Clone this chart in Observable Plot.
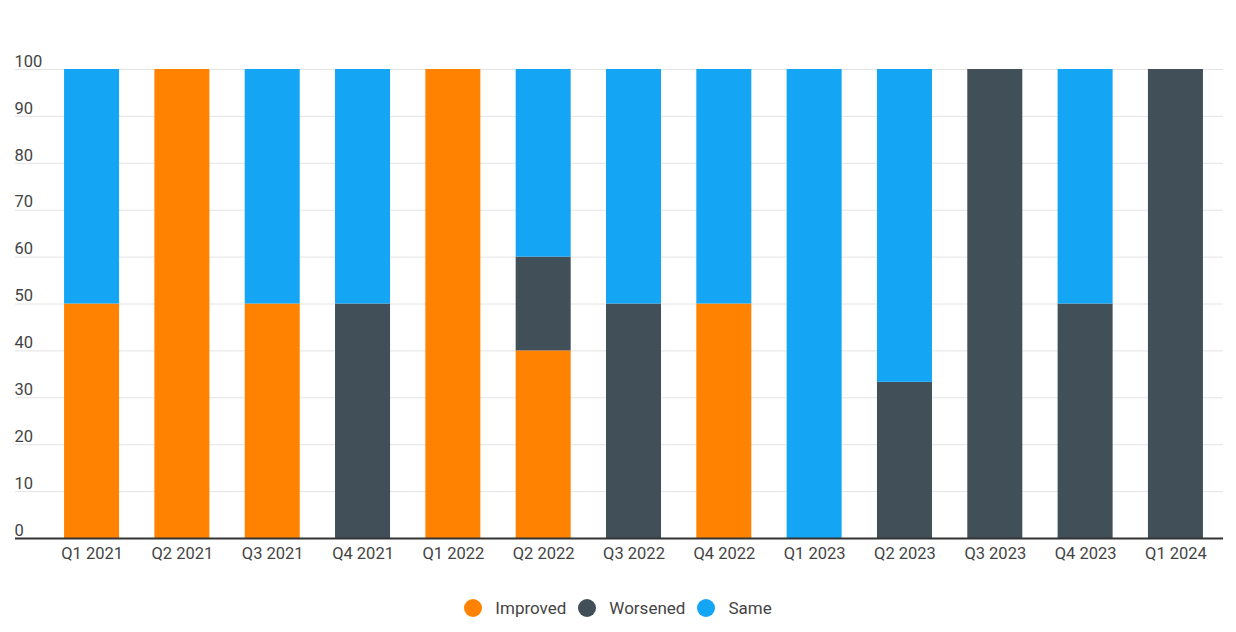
<!DOCTYPE html>
<html>
<head>
<meta charset="utf-8">
<script src="https://cdn.jsdelivr.net/npm/d3@7"></script>
<script src="https://cdn.jsdelivr.net/npm/@observablehq/plot@0.6"></script>
<style>
  html, body { margin: 0; padding: 0; background: #fff; }
  body { width: 1236px; height: 632px; overflow: hidden; font-family: Roboto, "Noto Sans", sans-serif; }
  #legend { display: flex; justify-content: center; align-items: center; margin-top: 23px; margin-left: 0px; font-size: 17px; color: #444; }
  .item { display: flex; align-items: center; margin: 0 6px; }
  .sw { width: 18px; height: 18px; border-radius: 50%; margin-right: 13px; }
</style>
</head>
<body>
<div id="chart"></div>
<div id="legend"></div>
<script>
const quarters = ["Q1 2021","Q2 2021","Q3 2021","Q4 2021","Q1 2022","Q2 2022","Q3 2022","Q4 2022","Q1 2023","Q2 2023","Q3 2023","Q4 2023","Q1 2024"];
const improved = [50, 100, 50, 0, 100, 40, 0, 50, 0, 0, 0, 0, 0];
const worsened = [0, 0, 0, 50, 0, 20, 50, 0, 0, 33.3, 100, 50, 100];
const same     = [50, 0, 50, 50, 0, 40, 50, 50, 100, 66.7, 0, 50, 0];
const seriesNames = ["Improved", "Worsened", "Same"];
const seriesColors = ["#ff8200", "#404f58", "#14a6f5"];
const yTicks = [0, 10, 20, 30, 40, 50, 60, 70, 80, 90, 100];

const seriesValues = [improved, worsened, same];
const rows = [];
quarters.forEach((q, i) => {
  seriesNames.forEach((s, j) => {
    rows.push({quarter: q, series: s, value: seriesValues[j][i]});
  });
});

const chart = Plot.plot({
  width: 1236,
  height: 575,
  marginTop: 69,
  marginBottom: 37,
  marginLeft: 46,
  marginRight: 15,
  style: {fontFamily: "Roboto, sans-serif", fontSize: "16.5px", color: "#444", background: "#fff"},
  x: {domain: quarters, paddingInner: 0.391, paddingOuter: 0.2, round: false, label: null},
  y: {domain: [0, 100], label: null},
  color: {domain: seriesNames, range: seriesColors},
  marks: [
    Plot.gridY(yTicks, {stroke: "#e4e4e4", strokeOpacity: 1, insetLeft: -31, insetRight: -2}),
    Plot.barY(rows, Plot.stackY({order: seriesNames, x: "quarter", y: "value", fill: "series"})),
    Plot.ruleY([0], {stroke: "#333", strokeWidth: 2, insetLeft: -31, insetRight: -2}),
    Plot.axisY(yTicks, {tickSize: 0, textAnchor: "start", dx: -23, dy: -8, label: null, fill: "#444"}),
    Plot.axisX({tickSize: 0, tickPadding: 9, label: null, fill: "#444"})
  ]
});
document.getElementById("chart").appendChild(chart);

const legend = document.getElementById("legend");
seriesNames.forEach((s, i) => {
  const item = document.createElement("div");
  item.className = "item";
  const sw = document.createElement("span");
  sw.className = "sw";
  sw.style.background = seriesColors[i];
  const t = document.createElement("span");
  t.textContent = s;
  item.appendChild(sw);
  item.appendChild(t);
  legend.appendChild(item);
});
</script>
</body>
</html>
